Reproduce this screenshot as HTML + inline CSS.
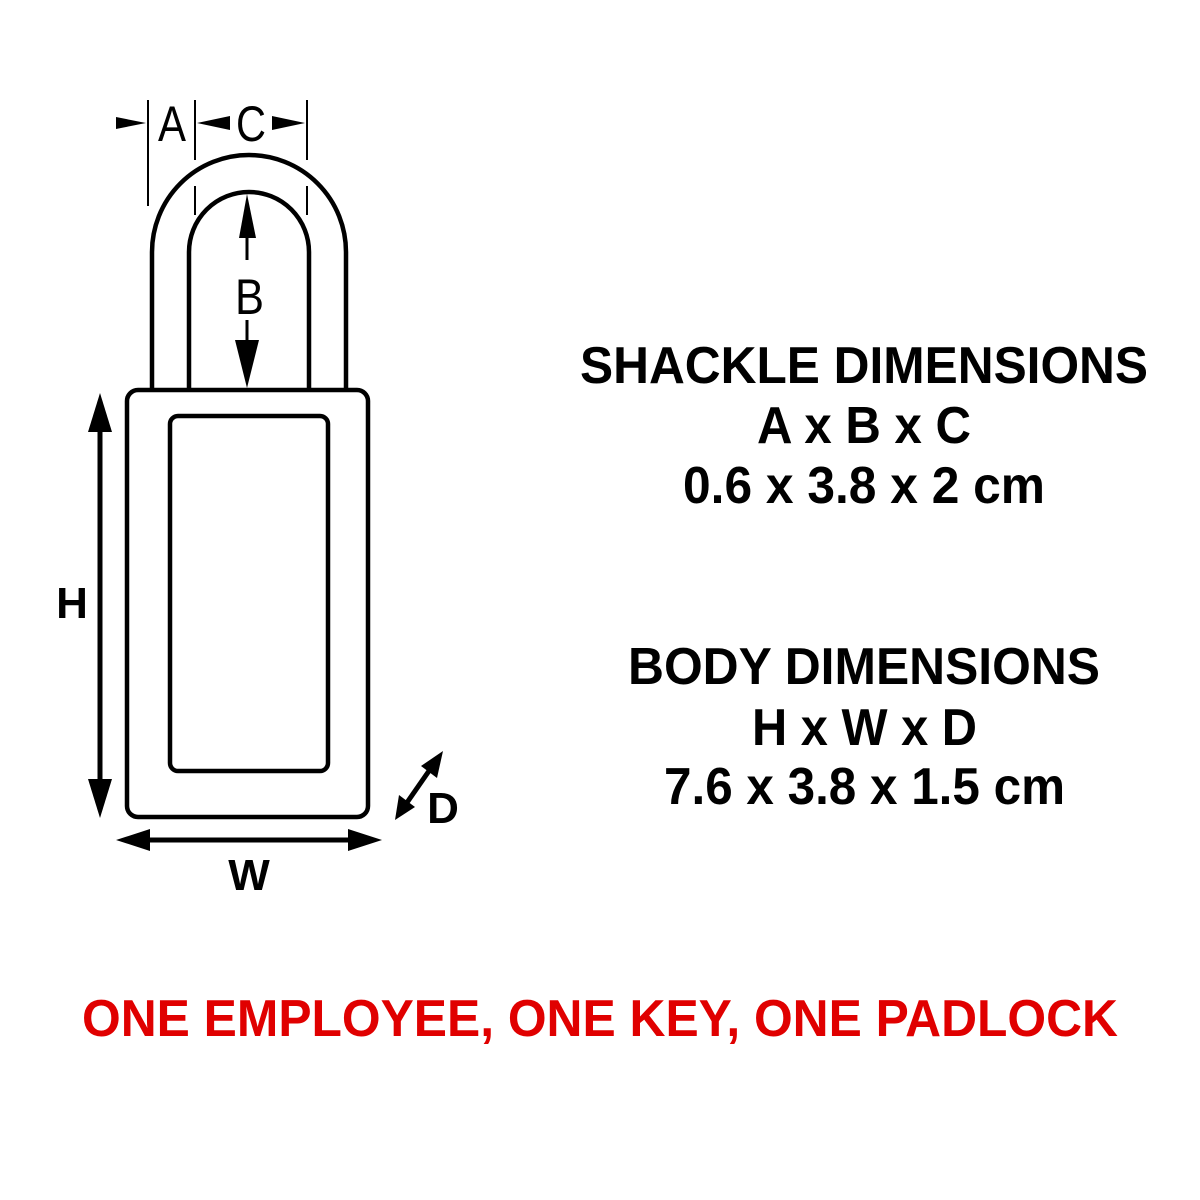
<!DOCTYPE html>
<html><head><meta charset="utf-8"><style>
html,body{margin:0;padding:0;background:#fff}
svg{display:block}
text{font-family:"Liberation Sans",Arial,sans-serif}
</style></head><body>
<svg width="1200" height="1200" viewBox="0 0 1200 1200" xmlns="http://www.w3.org/2000/svg">
<g fill="none" stroke="#000" stroke-width="4.5">
<path d="M152 390 V252 A97 97 0 0 1 346 252 V390"/>
<path d="M189 390 V252 A60 60 0 0 1 309 252 V390"/>
<rect x="127" y="390" width="241" height="427" rx="11"/>
<rect x="170" y="416" width="158" height="355" rx="8"/>
</g>
<g stroke="#000" stroke-width="2">
<line x1="148" y1="100" x2="148" y2="206"/>
<line x1="195" y1="100" x2="195" y2="160"/>
<line x1="195" y1="186" x2="195" y2="215"/>
<line x1="307" y1="100" x2="307" y2="160"/>
<line x1="307" y1="186" x2="307" y2="215"/>
</g>
<g fill="#000">
<polygon points="116,117 146,123 116,129"/>
<polygon points="197,123 230,116 230,130"/>
<polygon points="305,123 272,116 272,130"/>
<polygon points="247,194 239,238 256,238"/>
<polygon points="247,388 235,340 259,340"/>
<polygon points="100,393 88,432 112,432"/>
<polygon points="100,818 88,779 112,779"/>
<polygon points="116,840 150,829 150,851"/>
<polygon points="382,840 348,829 348,851"/>
<polygon points="443,751 421,766 437,778"/>
<polygon points="395,820 399,795 415,807"/>
</g>
<g stroke="#000">
<line x1="247" y1="235" x2="247" y2="260" stroke-width="3"/>
<line x1="247" y1="320" x2="247" y2="345" stroke-width="3"/>
<line x1="100" y1="425" x2="100" y2="785" stroke-width="5"/>
<line x1="145" y1="840" x2="352" y2="840" stroke-width="5"/>
<line x1="431" y1="768" x2="406" y2="804" stroke-width="5"/>
</g>
<text x="158" y="141" font-size="50" textLength="28" lengthAdjust="spacingAndGlyphs">A</text>
<text x="236" y="141" font-size="50" textLength="30" lengthAdjust="spacingAndGlyphs">C</text>
<text x="235" y="314" font-size="50" textLength="29" lengthAdjust="spacingAndGlyphs">B</text>
<text x="72" y="618" font-size="44" font-weight="bold" text-anchor="middle">H</text>
<text x="249" y="890" font-size="44" font-weight="bold" text-anchor="middle">W</text>
<text x="443" y="823" font-size="44" font-weight="bold" text-anchor="middle">D</text>
<g font-weight="bold" font-size="52" fill="#000">
<text x="580" y="383" textLength="568" lengthAdjust="spacingAndGlyphs">SHACKLE DIMENSIONS</text>
<text x="757" y="443" textLength="214" lengthAdjust="spacingAndGlyphs">A x B x C</text>
<text x="683" y="503" textLength="362" lengthAdjust="spacingAndGlyphs">0.6 x 3.8 x 2 cm</text>
<text x="628" y="684" textLength="472" lengthAdjust="spacingAndGlyphs">BODY DIMENSIONS</text>
<text x="752" y="745" textLength="225" lengthAdjust="spacingAndGlyphs">H x W x D</text>
<text x="664" y="804" textLength="401" lengthAdjust="spacingAndGlyphs">7.6 x 3.8 x 1.5 cm</text>
<text x="82" y="1036" fill="#e00000" textLength="1036" lengthAdjust="spacingAndGlyphs">ONE EMPLOYEE, ONE KEY, ONE PADLOCK</text>
</g>
</svg>
</body></html>
